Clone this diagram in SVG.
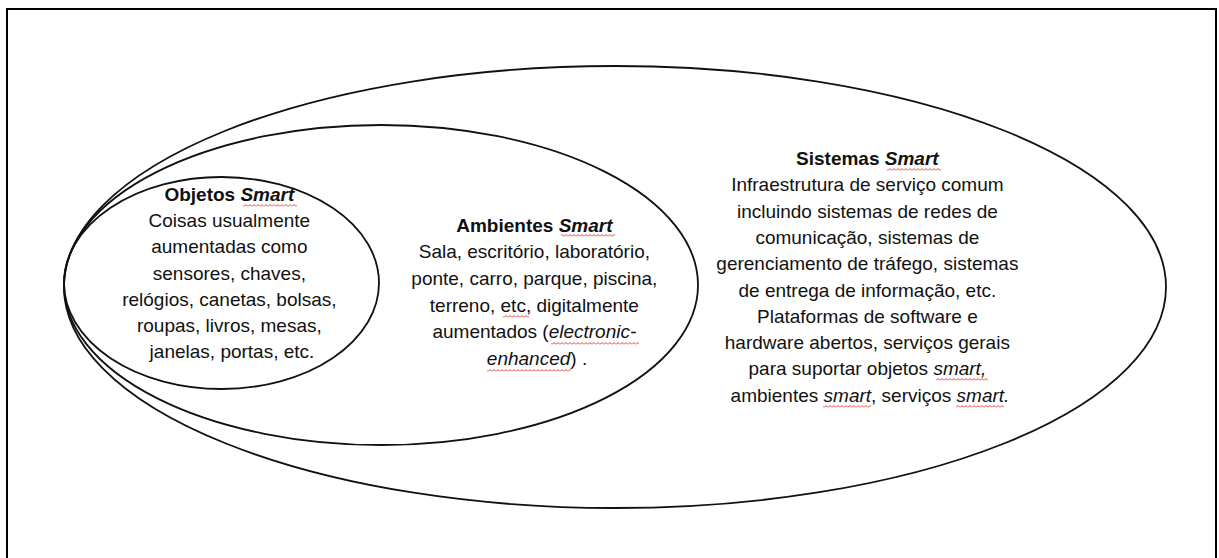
<svg xmlns="http://www.w3.org/2000/svg" width="1219" height="558" viewBox="0 0 1219 558">
<style>
.bg{fill:#ffffff}
.frame{fill:none;stroke:#000;stroke-width:2}
.ell{fill:none;stroke:#111;stroke-width:1.8}
.t{font-family:"Liberation Sans",Arial,sans-serif;font-size:19px;fill:#111;text-anchor:middle}
.b{font-weight:bold}
.i{font-style:italic}
.sq{fill:url(#squig)}
</style>
<defs>
<pattern id="squig" width="4" height="3" patternUnits="userSpaceOnUse">
<path d="M0 2.5 L2 0.5 L4 2.5" fill="none" stroke="#e02a2a" stroke-width="0.9"/>
</pattern>
</defs>
<rect class="bg" x="0" y="0" width="1219" height="558"/>
<rect class="frame" x="7" y="9" width="1209" height="600"/>
<g id="connectors"></g>
<g id="sistemas">
<ellipse class="ell" cx="615" cy="287" rx="551" ry="221"/>
<text class="t" x="870" y="165">
<tspan class="b">Sistemas </tspan><tspan class="b i">Smart</tspan>
<tspan x="870" dy="26.3">Infraestrutura de serviço comum</tspan>
<tspan x="870" dy="26.3">incluindo sistemas de redes de</tspan>
<tspan x="870" dy="26.3">comunicação, sistemas de</tspan>
<tspan x="870" dy="26.3">gerenciamento de tráfego, sistemas</tspan>
<tspan x="870" dy="26.3">de entrega de informação, etc.</tspan>
<tspan x="870" dy="26.3">Plataformas de software e</tspan>
<tspan x="870" dy="26.3">hardware abertos, serviços gerais</tspan>
<tspan x="870" dy="26.3">para suportar objetos <tspan class="i">smart,</tspan></tspan>
<tspan x="870" dy="26.3">ambientes <tspan class="i">smart</tspan>, serviços <tspan class="i">smart.</tspan></tspan>
</text>
<rect class="sq" x="887" y="168" width="54" height="3"/>
<rect class="sq" x="936" y="378" width="52" height="3"/>
<rect class="sq" x="823" y="405" width="48" height="3"/>
<rect class="sq" x="956" y="405" width="48" height="3"/>
</g>
<g id="ambientes">
<ellipse class="ell" cx="381" cy="285" rx="317" ry="160"/>
<text class="t" x="537" y="231.7">
<tspan class="b">Ambientes </tspan><tspan class="b i">Smart</tspan>
<tspan x="537" dy="26.6">Sala, escritório, laboratório,</tspan>
<tspan x="537" dy="26.6">ponte, carro, parque, piscina,</tspan>
<tspan x="537" dy="26.6">terreno, etc, digitalmente</tspan>
<tspan x="537" dy="26.6">aumentados (<tspan class="i">electronic-</tspan></tspan>
<tspan x="537" dy="26.6"><tspan class="i">enhanced</tspan>) .</tspan>
</text>
<rect class="sq" x="561" y="234" width="54" height="3"/>
<rect class="sq" x="503" y="315" width="26" height="3"/>
<rect class="sq" x="551" y="342" width="88" height="3"/>
<rect class="sq" x="487" y="369" width="84" height="3"/>
</g>
<g id="objetos">
<ellipse class="ell" cx="221.5" cy="283" rx="157.5" ry="106"/>
<text class="t" x="232" y="201">
<tspan class="b">Objetos </tspan><tspan class="b i">Smart</tspan>
<tspan x="232" dy="26.2">Coisas usualmente</tspan>
<tspan x="232" dy="26.2">aumentadas como</tspan>
<tspan x="232" dy="26.2">sensores, chaves,</tspan>
<tspan x="232" dy="26.2">relógios, canetas, bolsas,</tspan>
<tspan x="232" dy="26.2">roupas, livros, mesas,</tspan>
<tspan x="232" dy="26.2">janelas, portas, etc.</tspan>
</text>
<rect class="sq" x="243" y="204" width="54" height="3"/>
</g>
</svg>
